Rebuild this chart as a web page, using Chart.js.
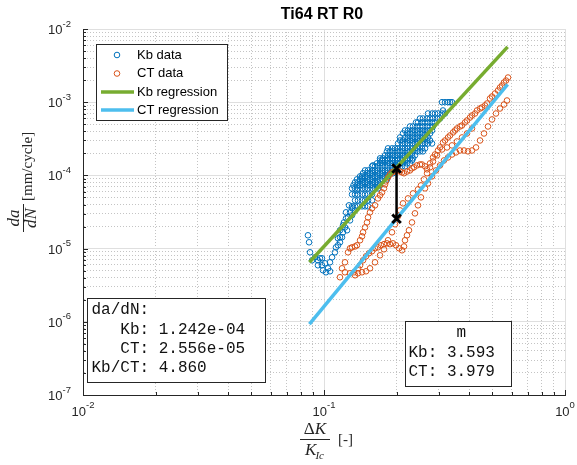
<!DOCTYPE html>
<html lang="en">
<head>
<meta charset="utf-8" />
<title>Ti64 RT R0</title>
<script src="https://cdn.jsdelivr.net/npm/chart.js@4/dist/chart.umd.min.js"></script>
<style>
  html, body { margin: 0; padding: 0; background: #fff; }
</style>
</head>
<body>
<canvas id="chart" width="577" height="465"></canvas>
<script>
// ---- data ----
const kbData = [
  [0.0858,1.52e-5],[0.0867,1.22e-5],[0.0875,8.90e-6],[0.0892,6.92e-6],[0.0918,7.61e-6],[0.0944,6.92e-6],
  [0.0944,5.92e-6],[0.0962,7.37e-6],[0.0981,7.37e-6],[0.0981,5.92e-6],[0.099,5.06e-6],[0.101,6.30e-6],
  [0.1019,4.75e-6],[0.1039,5.38e-6],[0.1059,6.50e-6],[0.1059,4.90e-6],[0.108,7.61e-6],[0.111,8.90e-6],
  [0.1121,1.04e-5],[0.1143,1.11e-5],[0.1143,1.38e-5],[0.1165,1.22e-5],[0.1165,1.43e-5],[0.1165,1.78e-5],
  [0.1188,1.43e-5],[0.1199,1.67e-5],[0.1199,2.08e-5],[0.121,2.28e-5],[0.1222,1.95e-5],[0.1234,2.59e-5],
  [0.1234,3.13e-5],[0.1246,1.78e-5],[0.1258,2.67e-5],[0.127,3.90e-5],[0.1282,2.43e-5],[0.1282,3.13e-5],
  [0.1307,2.85e-5],[0.1307,3.55e-5],[0.1345,3.33e-5],[0.137,6.24e-5],[0.1438,9.10e-5],[0.1597,1.37e-4],
  [0.1307,3.78e-5],[0.1345,3.78e-5],[0.1384,3.78e-5],[0.1438,3.78e-5],[0.148,3.78e-5],[0.1523,3.78e-5],
  [0.1345,4.56e-5],[0.1384,4.56e-5],[0.1438,4.56e-5],[0.148,4.56e-5],[0.1523,4.56e-5],[0.1582,4.56e-5],
  [0.1307,5.51e-5],[0.1345,5.51e-5],[0.1384,5.51e-5],[0.1438,5.51e-5],[0.148,5.51e-5],[0.1523,5.51e-5],[0.1582,5.51e-5],
  [0.1307,6.65e-5],[0.1345,6.65e-5],[0.1384,6.65e-5],[0.1438,6.65e-5],[0.148,6.65e-5],[0.1523,6.65e-5],
  [0.1582,6.65e-5],[0.1628,6.65e-5],[0.1675,6.65e-5],
  [0.1325,7.30e-5],[0.137,7.30e-5],[0.1411,7.30e-5],[0.1452,7.30e-5],[0.1508,7.30e-5],[0.1552,7.30e-5],
  [0.1597,7.30e-5],[0.1658,7.30e-5],[0.1708,7.30e-5],
  [0.1345,8.03e-5],[0.1384,8.03e-5],[0.1438,8.03e-5],[0.148,8.03e-5],[0.1523,8.03e-5],[0.1582,8.03e-5],
  [0.1628,8.03e-5],[0.1675,8.03e-5],
  [0.137,8.82e-5],[0.1411,8.82e-5],[0.1452,8.82e-5],[0.1508,8.82e-5],[0.1552,8.82e-5],[0.1597,8.82e-5],
  [0.1658,8.82e-5],[0.1708,8.82e-5],[0.1757,8.82e-5],[0.1825,8.82e-5],
  [0.1411,9.69e-5],[0.1438,9.69e-5],[0.148,9.69e-5],[0.1523,9.69e-5],[0.1582,9.69e-5],[0.1628,9.69e-5],
  [0.1675,9.69e-5],[0.1741,9.69e-5],[0.1791,9.69e-5],[0.1843,9.69e-5],
  [0.1452,1.07e-4],[0.1508,1.07e-4],[0.1552,1.07e-4],[0.1597,1.07e-4],[0.1658,1.07e-4],[0.1708,1.07e-4],
  [0.1757,1.07e-4],[0.1825,1.07e-4],[0.1879,1.07e-4],[0.1933,1.07e-4],
  [0.148,1.17e-4],[0.1523,1.17e-4],[0.1582,1.17e-4],[0.1628,1.17e-4],[0.1675,1.17e-4],[0.1741,1.17e-4],
  [0.1791,1.17e-4],[0.1843,1.17e-4],[0.1915,1.17e-4],[0.1971,1.17e-4],
  [0.1582,1.33e-4],[0.1628,1.33e-4],[0.1675,1.33e-4],[0.1741,1.33e-4],[0.1791,1.33e-4],[0.1843,1.33e-4],
  [0.1915,1.33e-4],[0.1971,1.33e-4],[0.2028,1.33e-4],[0.2107,1.33e-4],[0.2168,1.33e-4],
  [0.1658,1.46e-4],[0.1708,1.46e-4],[0.1757,1.46e-4],[0.1825,1.46e-4],[0.1879,1.46e-4],[0.1933,1.46e-4],
  [0.2009,1.46e-4],[0.2068,1.46e-4],[0.2127,1.46e-4],[0.221,1.46e-4],[0.2274,1.46e-4],
  [0.1708,1.60e-4],[0.1741,1.60e-4],[0.1791,1.60e-4],[0.1843,1.60e-4],[0.1915,1.60e-4],[0.1971,1.60e-4],
  [0.2028,1.60e-4],[0.2107,1.60e-4],[0.2168,1.60e-4],[0.2231,1.60e-4],[0.2318,1.60e-4],
  [0.1708,1.71e-4],[0.1757,1.71e-4],[0.1825,1.71e-4],[0.1879,1.71e-4],[0.1933,1.71e-4],[0.2009,1.71e-4],
  [0.2068,1.71e-4],[0.2127,1.71e-4],[0.221,1.71e-4],[0.2274,1.71e-4],[0.234,1.71e-4],
  [0.1791,1.88e-4],[0.1843,1.88e-4],[0.1915,1.88e-4],[0.1971,1.88e-4],[0.2028,1.88e-4],[0.2107,1.88e-4],
  [0.2168,1.88e-4],[0.2231,1.88e-4],[0.2318,1.88e-4],[0.2385,1.88e-4],
  [0.1825,2.13e-4],[0.1879,2.13e-4],[0.1933,2.13e-4],[0.2009,2.13e-4],[0.2068,2.13e-4],[0.2127,2.13e-4],
  [0.221,2.13e-4],[0.2274,2.13e-4],[0.234,2.13e-4],[0.2431,2.13e-4],[0.2502,2.13e-4],[0.2574,2.13e-4],
  [0.1843,2.34e-4],[0.1915,2.34e-4],[0.1971,2.34e-4],[0.2028,2.34e-4],[0.2107,2.34e-4],[0.2168,2.34e-4],
  [0.2231,2.34e-4],[0.2318,2.34e-4],[0.2385,2.34e-4],[0.2455,2.34e-4],[0.255,2.34e-4],[0.2625,2.34e-4],
  [0.2028,2.73e-4],[0.2107,2.73e-4],[0.2168,2.73e-4],[0.2231,2.73e-4],[0.2318,2.73e-4],[0.2385,2.73e-4],
  [0.2455,2.73e-4],[0.255,2.73e-4],[0.2625,2.73e-4],[0.2701,2.73e-4],[0.2807,2.73e-4],
  [0.2068,3.00e-4],[0.2127,3.00e-4],[0.221,3.00e-4],[0.2274,3.00e-4],[0.234,3.00e-4],[0.2431,3.00e-4],
  [0.2502,3.00e-4],[0.2574,3.00e-4],[0.2676,3.00e-4],[0.2754,3.00e-4],
  [0.2068,3.30e-4],[0.2168,3.30e-4],[0.2231,3.30e-4],[0.2318,3.30e-4],[0.2385,3.30e-4],[0.2455,3.30e-4],
  [0.255,3.30e-4],[0.2625,3.30e-4],[0.2701,3.30e-4],
  [0.2127,3.74e-4],[0.221,3.74e-4],[0.2274,3.74e-4],[0.234,3.74e-4],[0.2431,3.74e-4],[0.2502,3.74e-4],
  [0.2574,3.74e-4],[0.2676,3.74e-4],[0.2754,3.74e-4],
  [0.2168,4.11e-4],[0.2231,4.11e-4],[0.2318,4.11e-4],[0.2385,4.11e-4],[0.2455,4.11e-4],[0.255,4.11e-4],
  [0.2625,4.11e-4],[0.2701,4.11e-4],[0.2807,4.11e-4],
  [0.2274,4.66e-4],[0.234,4.66e-4],[0.2431,4.66e-4],[0.2502,4.66e-4],[0.2574,4.66e-4],[0.2676,4.66e-4],
  [0.2754,4.66e-4],[0.2834,4.66e-4],
  [0.2408,5.29e-4],[0.2455,5.29e-4],[0.255,5.29e-4],[0.2625,5.29e-4],[0.2701,5.29e-4],[0.2807,5.29e-4],[0.2888,5.29e-4],
  [0.2502,5.99e-4],[0.2574,5.99e-4],[0.2676,5.99e-4],[0.2754,5.99e-4],[0.2834,5.99e-4],[0.2944,5.99e-4],[0.3029,5.99e-4],
  [0.2701,7.01e-4],[0.2807,7.01e-4],[0.2888,7.01e-4],[0.2972,7.01e-4],[0.3088,7.01e-4],[0.3178,7.01e-4],
  [0.3117,7.71e-4],
  [0.3088,1.0e-3],[0.3178,1.0e-3],[0.327,1.0e-3],[0.3333,1.0e-3],[0.3397,1.0e-3]
];

const ctData = [
  [0.1165,4.06e-6],[0.1188,5.38e-6],[0.1222,6.50e-6],[0.1258,8.90e-6],[0.1282,1.01e-5],[0.1307,1.04e-5],
  [0.1345,1.07e-5],[0.137,1.11e-5],[0.1411,1.30e-5],[0.1438,1.47e-5],[0.1452,1.67e-5],[0.148,1.95e-5],
  [0.1508,2.28e-5],[0.1523,2.67e-5],[0.1552,3.13e-5],[0.1582,3.55e-5],[0.1628,3.90e-5],[0.1675,4.85e-5],
  [0.1708,5.34e-5],[0.1741,5.86e-5],[0.1774,6.65e-5],[0.1791,7.54e-5],[0.1808,8.28e-5],[0.1843,9.39e-5],
  [0.1879,1.03e-4],[0.1915,1.10e-4],[0.1952,1.13e-4],[0.2009,1.17e-4],[0.2068,1.13e-4],[0.2107,1.10e-4],
  [0.2148,1.07e-4],[0.221,1.13e-4],[0.2274,1.17e-4],[0.2318,1.25e-4],[0.2363,1.29e-4],[0.2431,1.37e-4],
  [0.2502,1.41e-4],[0.255,1.41e-4],[0.2625,1.33e-4],[0.2676,1.21e-4],[0.2754,1.46e-4],[0.2834,1.76e-4],
  [0.2888,1.93e-4],[0.2972,2.19e-4],[0.3029,2.41e-4],[0.3117,2.82e-4],[0.3178,3.00e-4],[0.327,3.30e-4],
  [0.3333,3.51e-4],[0.343,3.86e-4],[0.3496,4.11e-4],[0.3563,4.38e-4],[0.3667,4.66e-4],[0.3737,4.81e-4],
  [0.3846,5.29e-4],[0.392,5.63e-4],[0.4035,6.18e-4],[0.4113,6.59e-4],[0.4233,7.01e-4],[0.4313,7.71e-4],
  [0.444,8.20e-4],[0.4525,8.47e-4],[0.4656,9.02e-4],[0.4746,9.60e-4],[0.4884,1.123e-3],[0.4978,1.196e-3],
  [0.5123,1.314e-3],[0.5272,1.444e-3],[0.5374,1.587e-3],[0.5477,1.69e-3],[0.5583,1.857e-3],[0.569,1.977e-3],
  [0.5801,2.173e-3],
  [0.1345,4.32e-6],[0.1384,5.38e-6],[0.1411,5.92e-6],[0.1452,6.92e-6],[0.1494,7.85e-6],[0.1537,8.63e-6],
  [0.1582,9.19e-6],[0.1628,1.01e-5],[0.1675,1.04e-5],[0.1724,1.11e-5],[0.1774,1.15e-5],[0.1825,1.18e-5],
  [0.1879,1.15e-5],[0.1933,1.18e-5],[0.199,1.11e-5],[0.2048,1.01e-5],[0.2107,9.48e-6],[0.2148,1.07e-5],
  [0.2168,1.30e-5],[0.221,1.52e-5],[0.2252,1.78e-5],[0.2318,2.28e-5],[0.2385,3.03e-5],[0.2455,3.90e-5],
  [0.2526,5.01e-5],[0.2625,6.65e-5],[0.2701,7.78e-5],[0.2807,9.69e-5],[0.2916,1.17e-4],[0.3029,1.37e-4],
  [0.3147,1.60e-4],[0.327,1.76e-4],[0.3397,1.93e-4],[0.3529,2.06e-4],[0.3667,2.19e-4],[0.381,2.19e-4],
  [0.3958,2.13e-4],[0.4113,2.19e-4],[0.4273,2.41e-4],[0.444,3.00e-4],[0.4612,3.74e-4],[0.4791,4.66e-4],
  [0.4978,5.81e-4],[0.5172,7.01e-4],[0.5374,8.20e-4],[0.5583,9.30e-4],[0.5745,1.055e-3],
  [0.1222,4.75e-6],[0.1282,4.60e-6],[0.1332,4.75e-6],[0.1384,4.60e-6],[0.1438,4.75e-6],[0.1494,4.90e-6],
  [0.1552,5.38e-6],[0.1628,6.50e-6],[0.1708,8.10e-6],[0.1774,9.78e-6],[0.1843,1.30e-5],[0.1915,1.67e-5],
  [0.1971,2.15e-5],[0.2028,2.76e-5],[0.2068,3.33e-5],[0.2127,4.15e-5],[0.2231,4.85e-5],[0.234,5.68e-5],
  [0.2455,6.44e-5],[0.2526,7.30e-5],[0.2599,8.82e-5],[0.2676,1.07e-4],[0.2754,1.29e-4],[0.2834,1.55e-4],
  [0.2944,1.88e-4],[0.3088,2.26e-4],[0.3239,2.41e-4],[0.3397,2.57e-4],[0.3563,2.91e-4],[0.3737,3.30e-4],
  [0.392,3.74e-4],[0.4113,4.38e-4]
];

// regression line end points
const kbFit = [[0.087, 6.5e-6], [0.578, 5.7e-3]];
const ctFit = [[0.087, 9.3e-7], [0.578, 1.75e-3]];

// da/dN comparison at dK/KIc = 0.2
const markX = 0.2;
const markY = [1.242e-4, 2.556e-5];

const dadnLines = ['da/dN:', '   Kb: 1.242e-04', '   CT: 2.556e-05', 'Kb/CT: 4.860'];
const slopeLines = ['     m', 'Kb: 3.593', 'CT: 3.979'];

const legendItems = [
  { label: 'Kb data', kind: 'marker', color: '#0072BD' },
  { label: 'CT data', kind: 'marker', color: '#D95319' },
  { label: 'Kb regression', kind: 'line', color: '#77AC30' },
  { label: 'CT regression', kind: 'line', color: '#4DBEEE' }
];

const AXIS = '#262626';
const SANS = '"Liberation Sans", Arial, Helvetica, sans-serif';
const SERIF = '"Liberation Serif", "Times New Roman", serif';
const MONO = '"Liberation Mono", "Courier New", monospace';

const toXY = arr => arr.map(p => ({ x: p[0], y: p[1] }));

function isDecade(v) {
  const l = Math.log10(v);
  return Math.abs(l - Math.round(l)) < 1e-6;
}

// 1..9 x 10^n ticks, like matlab's minor grid
function logTicks(scale) {
  const lo = Math.round(Math.log10(scale.min)), hi = Math.round(Math.log10(scale.max));
  const out = [];
  for (let e = lo; e < hi; e++) {
    for (let m = 1; m < 10; m++) out.push({ value: m * Math.pow(10, e) });
  }
  out.push({ value: Math.pow(10, hi) });
  scale.ticks = out;
}

const gridColor = c => (c.tick && isDecade(c.tick.value)) ? '#dfdfdf' : '#c4c4c4';
const gridDash = c => (c.tick && !isDecade(c.tick.value)) ? [1, 2] : [];

function powLabel(ctx, exp, x, y, align) {
  const base = '10', sup = String(exp);
  ctx.font = '13px ' + SANS;
  const wb = ctx.measureText(base).width;
  ctx.font = '9.5px ' + SANS;
  const ws = ctx.measureText(sup).width;
  const x0 = align === 'right' ? x - wb - ws : x - (wb + ws) / 2;
  ctx.textAlign = 'left';
  ctx.textBaseline = 'middle';
  ctx.font = '13px ' + SANS;
  ctx.fillText(base, x0, y);
  ctx.font = '9.5px ' + SANS;
  ctx.fillText(sup, x0 + wb, y - 6.5);
}

function textBox(ctx, x0, y0, x1, y1, lines, tx, baselines) {
  ctx.fillStyle = '#fff';
  ctx.fillRect(x0, y0, x1 - x0, y1 - y0);
  ctx.strokeStyle = AXIS;
  ctx.lineWidth = 1;
  ctx.strokeRect(x0 + 0.5, y0 + 0.5, x1 - x0, y1 - y0);
  ctx.fillStyle = '#111';
  ctx.font = '16px ' + MONO;
  ctx.textAlign = 'left';
  ctx.textBaseline = 'alphabetic';
  lines.forEach((s, i) => ctx.fillText(s, tx, baselines[i]));
}

const decor = {
  id: 'decor',
  afterDraw(chart) {
    const { ctx, chartArea: a } = chart;
    const xs = chart.scales.x, ys = chart.scales.y;
    ctx.save();

    // inward ticks on left and bottom axes
    ctx.strokeStyle = AXIS;
    ctx.lineWidth = 1;
    ctx.beginPath();
    xs.ticks.forEach(t => {
      const px = Math.round(xs.getPixelForValue(t.value)) + 0.5;
      const len = isDecade(t.value) ? 5 : 3;
      ctx.moveTo(px, a.bottom);
      ctx.lineTo(px, a.bottom - len);
    });
    ys.ticks.forEach(t => {
      const py = Math.round(ys.getPixelForValue(t.value)) + 0.5;
      const len = isDecade(t.value) ? 5 : 3;
      ctx.moveTo(a.left, py);
      ctx.lineTo(a.left + len, py);
    });
    ctx.stroke();

    // tick labels
    ctx.fillStyle = AXIS;
    xs.ticks.filter(t => isDecade(t.value)).forEach(t => {
      powLabel(ctx, Math.round(Math.log10(t.value)), xs.getPixelForValue(t.value), a.bottom + 17, 'center');
    });
    ys.ticks.filter(t => isDecade(t.value)).forEach(t => {
      powLabel(ctx, Math.round(Math.log10(t.value)), a.left - 12, ys.getPixelForValue(t.value) + 1.5, 'right');
    });

    // title
    ctx.fillStyle = '#000';
    ctx.font = 'bold 16px ' + SANS;
    ctx.textAlign = 'center';
    ctx.textBaseline = 'middle';
    ctx.fillText('Ti64 RT R0', 322, 15);

    // x axis label: dK / KIc [-]
    const fx = 315;
    ctx.fillStyle = AXIS;
    ctx.textBaseline = 'alphabetic';
    ctx.textAlign = 'left';
    ctx.font = '17px ' + SERIF;
    const wD = ctx.measureText('\u0394').width;
    ctx.font = 'italic 17px ' + SERIF;
    const wK = ctx.measureText('K').width;
    let sx = fx - (wD + wK) / 2;
    ctx.font = '17px ' + SERIF;
    ctx.fillText('\u0394', sx, 434);
    ctx.font = 'italic 17px ' + SERIF;
    ctx.fillText('K', sx + wD, 434);
    ctx.font = 'italic 11px ' + SERIF;
    const wIc = ctx.measureText('Ic').width;
    sx = fx - (wK + wIc) / 2;
    ctx.font = 'italic 17px ' + SERIF;
    ctx.fillText('K', sx, 455);
    ctx.font = 'italic 11px ' + SERIF;
    ctx.fillText('Ic', sx + wK - 1, 459);
    ctx.strokeStyle = AXIS;
    ctx.beginPath();
    ctx.moveTo(fx - 15, 439.5);
    ctx.lineTo(fx + 15, 439.5);
    ctx.stroke();
    ctx.font = '15px ' + SERIF;
    ctx.fillText('[-]', 338, 444);

    // y axis label: da/dN [mm/cycle]
    ctx.save();
    ctx.translate(23, 218);
    ctx.rotate(-Math.PI / 2);
    ctx.textAlign = 'center';
    ctx.font = 'italic 17px ' + SERIF;
    ctx.fillText('da', 0, -4);
    ctx.fillText('dN', 0, 13);
    ctx.beginPath();
    ctx.moveTo(-14, 0.5);
    ctx.lineTo(14, 0.5);
    ctx.stroke();
    ctx.textAlign = 'left';
    ctx.font = '15px ' + SERIF;
    ctx.fillText('[mm/cycle]', 17, 9);
    ctx.restore();

    // legend
    const lx0 = 96, ly0 = 44, lx1 = 227, ly1 = 120;
    ctx.fillStyle = '#fff';
    ctx.fillRect(lx0, ly0, lx1 - lx0, ly1 - ly0);
    ctx.strokeStyle = AXIS;
    ctx.strokeRect(lx0 + 0.5, ly0 + 0.5, lx1 - lx0, ly1 - ly0);
    const rowsY = [55, 73.5, 92, 110];
    legendItems.forEach((it, i) => {
      const ry = rowsY[i];
      if (it.kind === 'marker') {
        ctx.strokeStyle = it.color;
        ctx.lineWidth = 1;
        ctx.beginPath();
        ctx.arc(117, ry, 2.8, 0, Math.PI * 2);
        ctx.stroke();
      } else {
        ctx.strokeStyle = it.color;
        ctx.lineWidth = 3.5;
        ctx.beginPath();
        ctx.moveTo(101, ry);
        ctx.lineTo(134, ry);
        ctx.stroke();
      }
      ctx.fillStyle = '#000';
      ctx.font = '13px ' + SANS;
      ctx.textAlign = 'left';
      ctx.textBaseline = 'middle';
      ctx.fillText(it.label, 137, ry);
    });

    // text boxes
    textBox(ctx, 87, 298, 265, 382, dadnLines, 91.5, [314, 334, 353, 372]);
    textBox(ctx, 405, 321, 511, 386, slopeLines, 408.5, [337, 356.5, 375.5]);

    ctx.restore();
  }
};

new Chart(document.getElementById('chart'), {
  type: 'scatter',
  data: {
    datasets: [
      {
        label: 'Kb data', data: toXY(kbData), order: 5,
        borderColor: '#0072BD', backgroundColor: 'rgba(0,0,0,0)',
        pointRadius: 2.8, pointBorderWidth: 1, showLine: false
      },
      {
        label: 'CT data', data: toXY(ctData), order: 4,
        borderColor: '#D95319', backgroundColor: 'rgba(0,0,0,0)',
        pointRadius: 2.8, pointBorderWidth: 1, showLine: false
      },
      {
        label: 'Kb regression', data: toXY(kbFit), order: 3,
        showLine: true, borderColor: '#77AC30', borderWidth: 3.5, pointRadius: 0
      },
      {
        label: 'CT regression', data: toXY(ctFit), order: 2,
        showLine: true, borderColor: '#4DBEEE', borderWidth: 3.5, pointRadius: 0
      },
      {
        label: 'ratio', data: markY.map(v => ({ x: markX, y: v })), order: 1,
        showLine: true, borderColor: '#000', borderWidth: 2.5,
        pointStyle: 'crossRot', pointRadius: 6, pointBorderWidth: 3,
        pointBorderColor: '#000', pointBackgroundColor: '#000'
      }
    ]
  },
  options: {
    responsive: false,
    animation: false,
    devicePixelRatio: 1,
    events: [],
    layout: { padding: { left: 83, right: 12, top: 29, bottom: 70 } },
    plugins: { legend: { display: false }, tooltip: { enabled: false }, title: { display: false } },
    scales: {
      x: {
        type: 'logarithmic', min: 0.01, max: 1,
        afterBuildTicks: logTicks,
        ticks: { display: false, autoSkip: false },
        grid: { color: gridColor, lineWidth: 1, drawTicks: false },
        border: { color: AXIS, width: 1, dash: gridDash }
      },
      y: {
        type: 'logarithmic', min: 1e-7, max: 1e-2,
        afterBuildTicks: logTicks,
        ticks: { display: false, autoSkip: false },
        grid: { color: gridColor, lineWidth: 1, drawTicks: false },
        border: { color: AXIS, width: 1, dash: gridDash }
      }
    }
  },
  plugins: [decor]
});
</script>
</body>
</html>
